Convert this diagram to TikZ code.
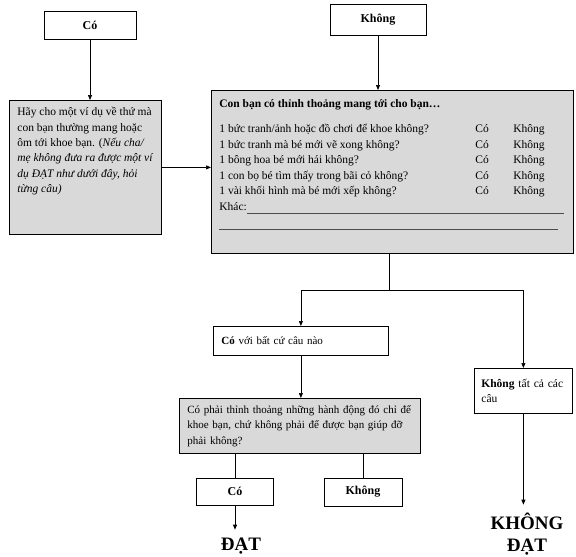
\documentclass[tikz,border=0pt]{standalone}
\usepackage{fontspec}
\setmainfont{Liberation Serif}
\usetikzlibrary{arrows.meta}
\definecolor{boxgray}{RGB}{217,217,217}

\begin{document}
\begin{tikzpicture}[x=1pt,y=-1pt,
  box/.style={draw,line width=0.8pt,inner xsep=8pt,inner ysep=6pt,font=\fontsize{11}{15.5}\selectfont},
  graybox/.style={box,fill=boxgray},
  titlebox/.style={draw,line width=0.8pt,font=\fontsize{12}{14}\selectfont\bfseries},
  arr/.style={-{Triangle[length=5pt,width=4pt]},line width=0.7pt},
  result/.style={font=\fontsize{19}{22}\selectfont\bfseries,align=center,inner xsep=1pt,inner ysep=8pt}]
\useasboundingbox (0,0) rectangle (576,557);
% top row
\node[titlebox,minimum width=92pt,minimum height=28pt] (co1) at (90,25) {Có};
\node[titlebox,minimum width=96pt,minimum height=31pt] (khong1) at (378,19.5) {Không};
% example box and checklist
\node[graybox,anchor=north west,font=\fontsize{11.5}{15.4}\selectfont] (left) at (9,100) {\parbox[c][122pt][t]{136pt}{%
\vspace*{1pt}Hãy cho một ví dụ về thứ mà\\
con bạn thường mang hoặc\\
ôm tới khoe bạn. (\textit{Nếu cha/}\\
\textit{mẹ không đưa ra được một ví}\\
\textit{dụ ĐẠT như dưới đây, hỏi}\\
\textit{từng câu)}}};
\node[graybox,anchor=north west,font=\fontsize{11.5}{15.6}\selectfont] (main) at (211,90) {\parbox[c][151pt][t]{346pt}{%
\vspace*{3pt}\textbf{Con bạn có thỉnh thoảng mang tới cho bạn…}\\[9.5pt]
\makebox[256pt][l]{1 bức tranh/ảnh hoặc đồ chơi để khoe không?}\makebox[38pt][l]{Có}Không\\
\makebox[256pt][l]{1 bức tranh mà bé mới vẽ xong không?}\makebox[38pt][l]{Có}Không\\
\makebox[256pt][l]{1 bông hoa bé mới hái không?}\makebox[38pt][l]{Có}Không\\
\makebox[256pt][l]{1 con bọ bé tìm thấy trong bãi cỏ không?}\makebox[38pt][l]{Có}Không\\
\makebox[256pt][l]{1 vài khối hình mà bé mới xếp không?}\makebox[38pt][l]{Có}Không\\
Khác:\textcolor{black!70}{\rule[-3pt]{317pt}{0.5pt}}\\
\textcolor{black!70}{\rule[-3.5pt]{339pt}{0.5pt}}}};
% answers
\node[box,anchor=north west,text width=159pt,minimum height=29pt,align=left] (cowith) at (213,326) {\textbf{Có} với bất cứ câu nào};
\node[box,anchor=north west,inner xsep=7pt,text width=84pt,minimum height=45pt,align=left,font=\fontsize{11.5}{15.5}\selectfont] (khongall) at (474,368) {\textbf{Không} tất cả các\\câu};
\node[graybox,anchor=north west,text width=225pt,minimum height=55pt,align=left] (q2) at (179,398) {Có phải thỉnh thoảng những hành động đó chỉ để\\
khoe bạn, chứ không phải để được bạn giúp đỡ\\
phải không?};
\node[titlebox,minimum width=77pt,minimum height=27pt] (co2) at (235,491.5) {Có};
\node[titlebox,minimum width=78pt,minimum height=28pt] (khong2) at (363,492) {Không};
\node[result] (dat) at (241,546) {ĐẠT};
\node[result] (khongdat) at (527,534) {KHÔNG\\ĐẠT};
\coordinate (split) at (389,290);
% connectors
\draw[arr] (co1.south) -- (co1.south |- left.north);
\draw[arr] (khong1.south) -- (main.north -| khong1.south);
\draw[arr] (left.east) -- (left.east -| main.west);
\draw[line width=0.7pt] (split |- main.south) -- (split);
\draw[arr] (split) -| (cowith.north);
\draw[arr] (split) -| (khongall.north);
\draw[arr] (cowith.south) -- (cowith.south |- q2.north);
\draw[line width=0.7pt] (q2.south -| co2.north) -- (co2.north);
\draw[line width=0.7pt] (q2.south -| khong2.north) -- (khong2.north);
\draw[arr] (co2.south) -- (co2.south |- dat.north);
\draw[arr] (khongall.south) -- (khongall.south |- khongdat.north);
\end{tikzpicture}
\end{document}
